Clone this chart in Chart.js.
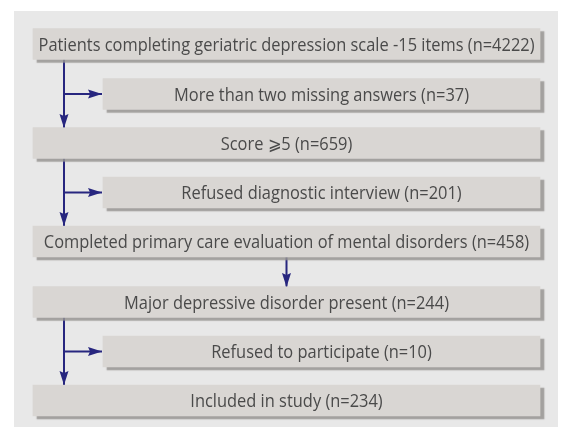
<!DOCTYPE html>
<html>
<head>
<meta charset="utf-8">
<script src="https://cdn.jsdelivr.net/npm/chart.js@4"></script>
<style>
  html, body { margin: 0; padding: 0; background: #ffffff; }
  #wrap { width: 561px; height: 427px; }
</style>
</head>
<body>
<div id="wrap"><canvas id="c" width="561" height="427"></canvas></div>
<script>
// ---- data ----
const stageLabels = [
  "Patients completing geriatric depression scale -15 items",
  "More than two missing answers",
  "Score \u2A7E5",
  "Refused diagnostic interview",
  "Completed primary care evaluation of mental disorders",
  "Major depressive disorder present",
  "Refused to participate",
  "Included in study"
];
const stageCounts = [4222, 37, 659, 201, 458, 244, 10, 234];
const stageExcluded = [false, true, false, true, false, false, true, false];

// ---- layout (pixel-like units on linear scales) ----
const rowCenter = [44, 94, 143, 192.5, 241.5, 302, 351.5, 400.5];
const mainLeft = 33, sideLeft = 103, boxRight = 540;
const trunkX = 64, centerX = 286.5;

const boxData = stageLabels.map((l, i) => ({
  y: rowCenter[i],
  x: [stageExcluded[i] ? sideLeft : mainLeft, boxRight]
}));

// arrows: list of [from, to] point pairs
const arrows = [
  [[trunkX, 59], [trunkX, 128]],
  [[trunkX, 94], [sideLeft - 1, 94]],
  [[trunkX, 158], [trunkX, 226]],
  [[trunkX, 192.5], [sideLeft - 1, 192.5]],
  [[centerX, 257], [centerX, 287]],
  [[trunkX, 317], [trunkX, 385]],
  [[trunkX, 351.5], [sideLeft - 1, 351.5]]
];
const NAVY = '#27267f';

const arrowDatasets = arrows.map(a => ({
  type: 'line',
  data: a.map(p => ({ x: p[0], y: p[1] })),
  borderColor: NAVY,
  borderWidth: 2,
  pointRadius: 0,
  fill: false,
  tension: 0,
  isArrow: true
}));

const panelPlugin = {
  id: 'panel',
  beforeDatasetsDraw(chart) {
    const { ctx, scales: { x, y } } = chart;
    ctx.save();
    ctx.fillStyle = '#e8e8e8';
    const x0 = x.getPixelForValue(14), x1 = x.getPixelForValue(558);
    const y0 = y.getPixelForValue(11), y1 = y.getPixelForValue(427);
    ctx.fillRect(x0, y0, x1 - x0, y1 - y0);
    ctx.restore();
  },
  beforeDatasetDraw(chart, args) {
    if (args.index === 0) {
      const ctx = chart.ctx;
      ctx.save();
      ctx.shadowColor = 'rgba(150,148,146,0.85)';
      ctx.shadowOffsetX = 4;
      ctx.shadowOffsetY = 3;
      ctx.shadowBlur = 1;
    }
  },
  afterDatasetDraw(chart, args) {
    if (args.index === 0) chart.ctx.restore();
  },
  afterDatasetsDraw(chart) {
    const ctx = chart.ctx;
    // arrowheads
    chart.data.datasets.forEach((ds, di) => {
      if (!ds.isArrow) return;
      const pts = chart.getDatasetMeta(di).data;
      const a = pts[pts.length - 2], b = pts[pts.length - 1];
      const ang = Math.atan2(b.y - a.y, b.x - a.x);
      const len = 14, hw = 4.5;
      ctx.save();
      ctx.translate(b.x, b.y);
      ctx.rotate(ang);
      ctx.fillStyle = NAVY;
      ctx.beginPath();
      ctx.moveTo(0, 0);
      ctx.lineTo(-len, -hw);
      ctx.lineTo(-len * 0.85, 0);
      ctx.lineTo(-len, hw);
      ctx.closePath();
      ctx.fill();
      ctx.restore();
    });
    // labels
    const meta = chart.getDatasetMeta(0);
    ctx.save();
    ctx.font = '18px "Open Sans", "Noto Sans", sans-serif';
    ctx.fillStyle = '#4a4a4a';
    ctx.textAlign = 'center';
    ctx.textBaseline = 'alphabetic';
    const texts = stageLabels.map((l, i) => l + ' (n=' + stageCounts[i] + ')');
    const sx = 496 / ctx.measureText(texts[0]).width;
    meta.data.forEach((el, i) => {
      const cx = (el.x + el.base) / 2;
      ctx.save();
      ctx.translate(cx, el.y + 6.5);
      ctx.scale(sx, 1);
      ctx.fillText(texts[i], 0, 0);
      ctx.restore();
    });
    ctx.restore();
  }
};

new Chart(document.getElementById('c'), {
  type: 'bar',
  data: {
    datasets: [
      {
        type: 'bar',
        indexAxis: 'y',
        data: boxData,
        backgroundColor: '#d9d6d3',
        borderWidth: 0,
        barThickness: 31,
        grouped: false
      },
      ...arrowDatasets
    ]
  },
  options: {
    responsive: false,
    animation: false,
    indexAxis: 'y',
    layout: { padding: 0 },
    plugins: { legend: { display: false }, tooltip: { enabled: false } },
    scales: {
      x: { type: 'linear', min: 0, max: 561, display: false, offset: false },
      y: { type: 'linear', min: 0, max: 427, reverse: true, display: false, offset: false }
    }
  },
  plugins: [panelPlugin]
});
</script>
</body>
</html>
